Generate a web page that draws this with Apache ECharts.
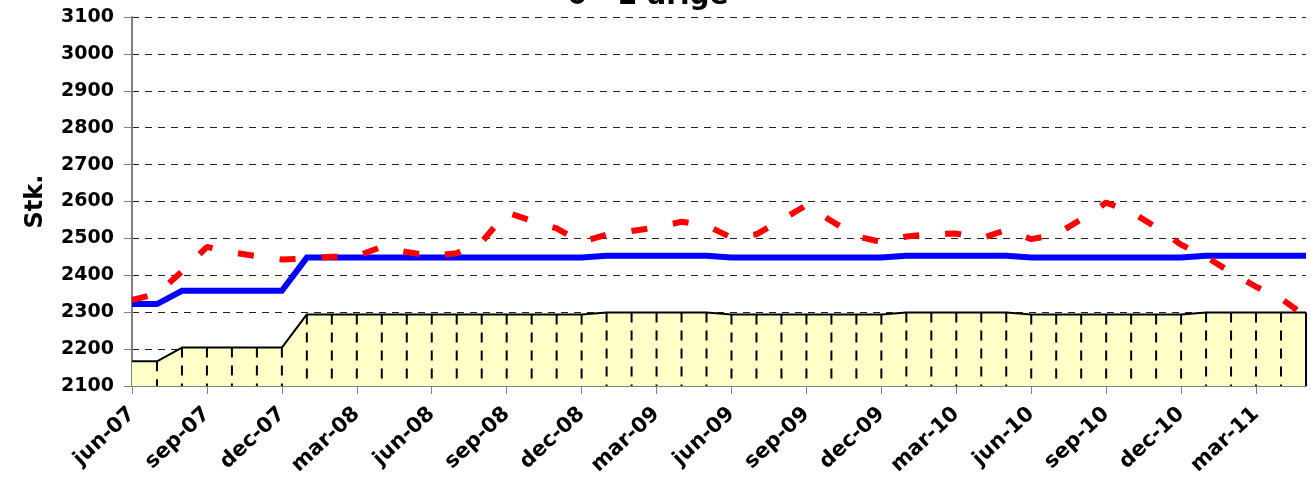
<!DOCTYPE html>
<html>
<head>
<meta charset="utf-8">
<script src="https://cdn.jsdelivr.net/npm/echarts@6/dist/echarts.min.js"></script>
<style>
  html, body { margin: 0; padding: 0; background: #fff; }
  #chart { width: 1311px; height: 484px; }
</style>
</head>
<body>
<div id="chart"></div>
<script>
const titleText = '0 - 2 årige';
const yAxisName = 'Stk.';
const months = ['jun-07','jul-07','aug-07','sep-07','okt-07','nov-07','dec-07',
  'jan-08','feb-08','mar-08','apr-08','maj-08','jun-08','jul-08','aug-08','sep-08','okt-08','nov-08','dec-08',
  'jan-09','feb-09','mar-09','apr-09','maj-09','jun-09','jul-09','aug-09','sep-09','okt-09','nov-09','dec-09',
  'jan-10','feb-10','mar-10','apr-10','maj-10','jun-10','jul-10','aug-10','sep-10','okt-10','nov-10','dec-10',
  'jan-11','feb-11','mar-11','apr-11','maj-11'];
// yellow area (lower series)
const areaValues = [2167,2167,2204,2204,2204,2204,2204,
  2294,2294,2294,2294,2294,2294,2294,2294,2294,2294,2294,2294,
  2299,2299,2299,2299,2299,2294,2294,2294,2294,2294,2294,2294,
  2299,2299,2299,2299,2299,2294,2294,2294,2294,2294,2294,2294,
  2299,2299,2299,2299,2299];
// blue solid line
const blueValues = [2322,2322,2358,2358,2358,2358,2358,
  2448,2448,2448,2448,2448,2448,2448,2448,2448,2448,2448,2448,
  2453,2453,2453,2453,2453,2448,2448,2448,2448,2448,2448,2448,
  2453,2453,2453,2453,2453,2448,2448,2448,2448,2448,2448,2448,
  2453,2453,2453,2453,2453];
// red dashed line
const redValues = [2333,2350,2410,2477,2462,2452,2443,
  2445,2450,2452,2477,2463,2452,2460,2490,2570,2548,2527,2490,
  2510,2520,2530,2545,2535,2502,2511,2550,2590,2547,2506,2490,
  2505,2512,2513,2500,2523,2498,2510,2552,2597,2572,2530,2483,
  2450,2408,2369,2337,2288];
const yMin = 2100, yMax = 3100, yStep = 100;

const FONT = '"DejaVu Sans", sans-serif';
const chart = echarts.init(document.getElementById('chart'), null, { renderer: 'canvas' });
const every3 = (i) => i % 3 === 0;

chart.setOption({
  animation: false,
  backgroundColor: '#ffffff',
  title: {
    text: titleText,
    left: 643,
    textAlign: 'center',
    top: -22,
    textStyle: { fontFamily: FONT, fontWeight: 'bold', fontSize: 28, color: '#000' }
  },
  grid: { left: 132, right: 5, top: 17, bottom: 98, containLabel: false },
  xAxis: {
    type: 'category',
    data: months,
    boundaryGap: false,
    axisLine: { show: true, lineStyle: { color: '#808080', width: 2 } },
    axisTick: { show: true, interval: (i) => every3(i), length: 8, lineStyle: { color: '#808080', width: 1 } },
    axisLabel: {
      interval: (i) => every3(i),
      rotate: 43,
      margin: 25,
      fontFamily: FONT, fontWeight: 'bold', fontSize: 21, color: '#000'
    },
    splitLine: { show: false }
  },
  yAxis: {
    type: 'value',
    min: yMin, max: yMax, interval: yStep,
    name: yAxisName,
    nameLocation: 'middle',
    nameGap: 84,
    nameRotate: 90,
    nameTextStyle: { fontFamily: FONT, fontWeight: 'bold', fontSize: 24, color: '#000' },
    axisLine: { show: true, lineStyle: { color: '#808080', width: 2 } },
    axisTick: { show: true, length: 8, lineStyle: { color: '#808080', width: 1 } },
    axisLabel: { margin: 18, formatter: (v) => String(v), fontFamily: FONT, fontWeight: 'bold', fontSize: 19, color: '#000' },
    splitLine: { show: true, lineStyle: { color: '#222', width: 1, type: [7, 6] } }
  },
  series: [
    {
      type: 'line',
      data: areaValues,
      symbol: 'none',
      z: 2,
      lineStyle: { color: '#000', width: 2 },
      areaStyle: { color: '#FFFFC8', opacity: 1 }
    },
    {
      type: 'custom',
      z: 3,
      data: areaValues.map((v, i) => [i, v]),
      renderItem: function (params, api) {
        const idx = api.value(0);
        if (idx === 0) return null;
        const top = api.coord([idx, api.value(1)]);
        const bot = api.coord([idx, yMin]);
        const last = idx === months.length - 1;
        return {
          type: 'line',
          shape: { x1: top[0], y1: top[1], x2: bot[0], y2: bot[1] },
          style: { stroke: '#000', lineWidth: 2, lineDash: last ? null : [10, 8] }
        };
      }
    },
    {
      type: 'line',
      data: blueValues,
      symbol: 'none',
      z: 4,
      lineStyle: { color: '#0000FF', width: 6, join: 'miter' }
    },
    {
      type: 'line',
      data: redValues,
      symbol: 'none',
      z: 5,
      lineStyle: { color: '#FF0000', width: 6, type: [16, 26], cap: 'butt' }
    }
  ]
});
</script>
</body>
</html>
